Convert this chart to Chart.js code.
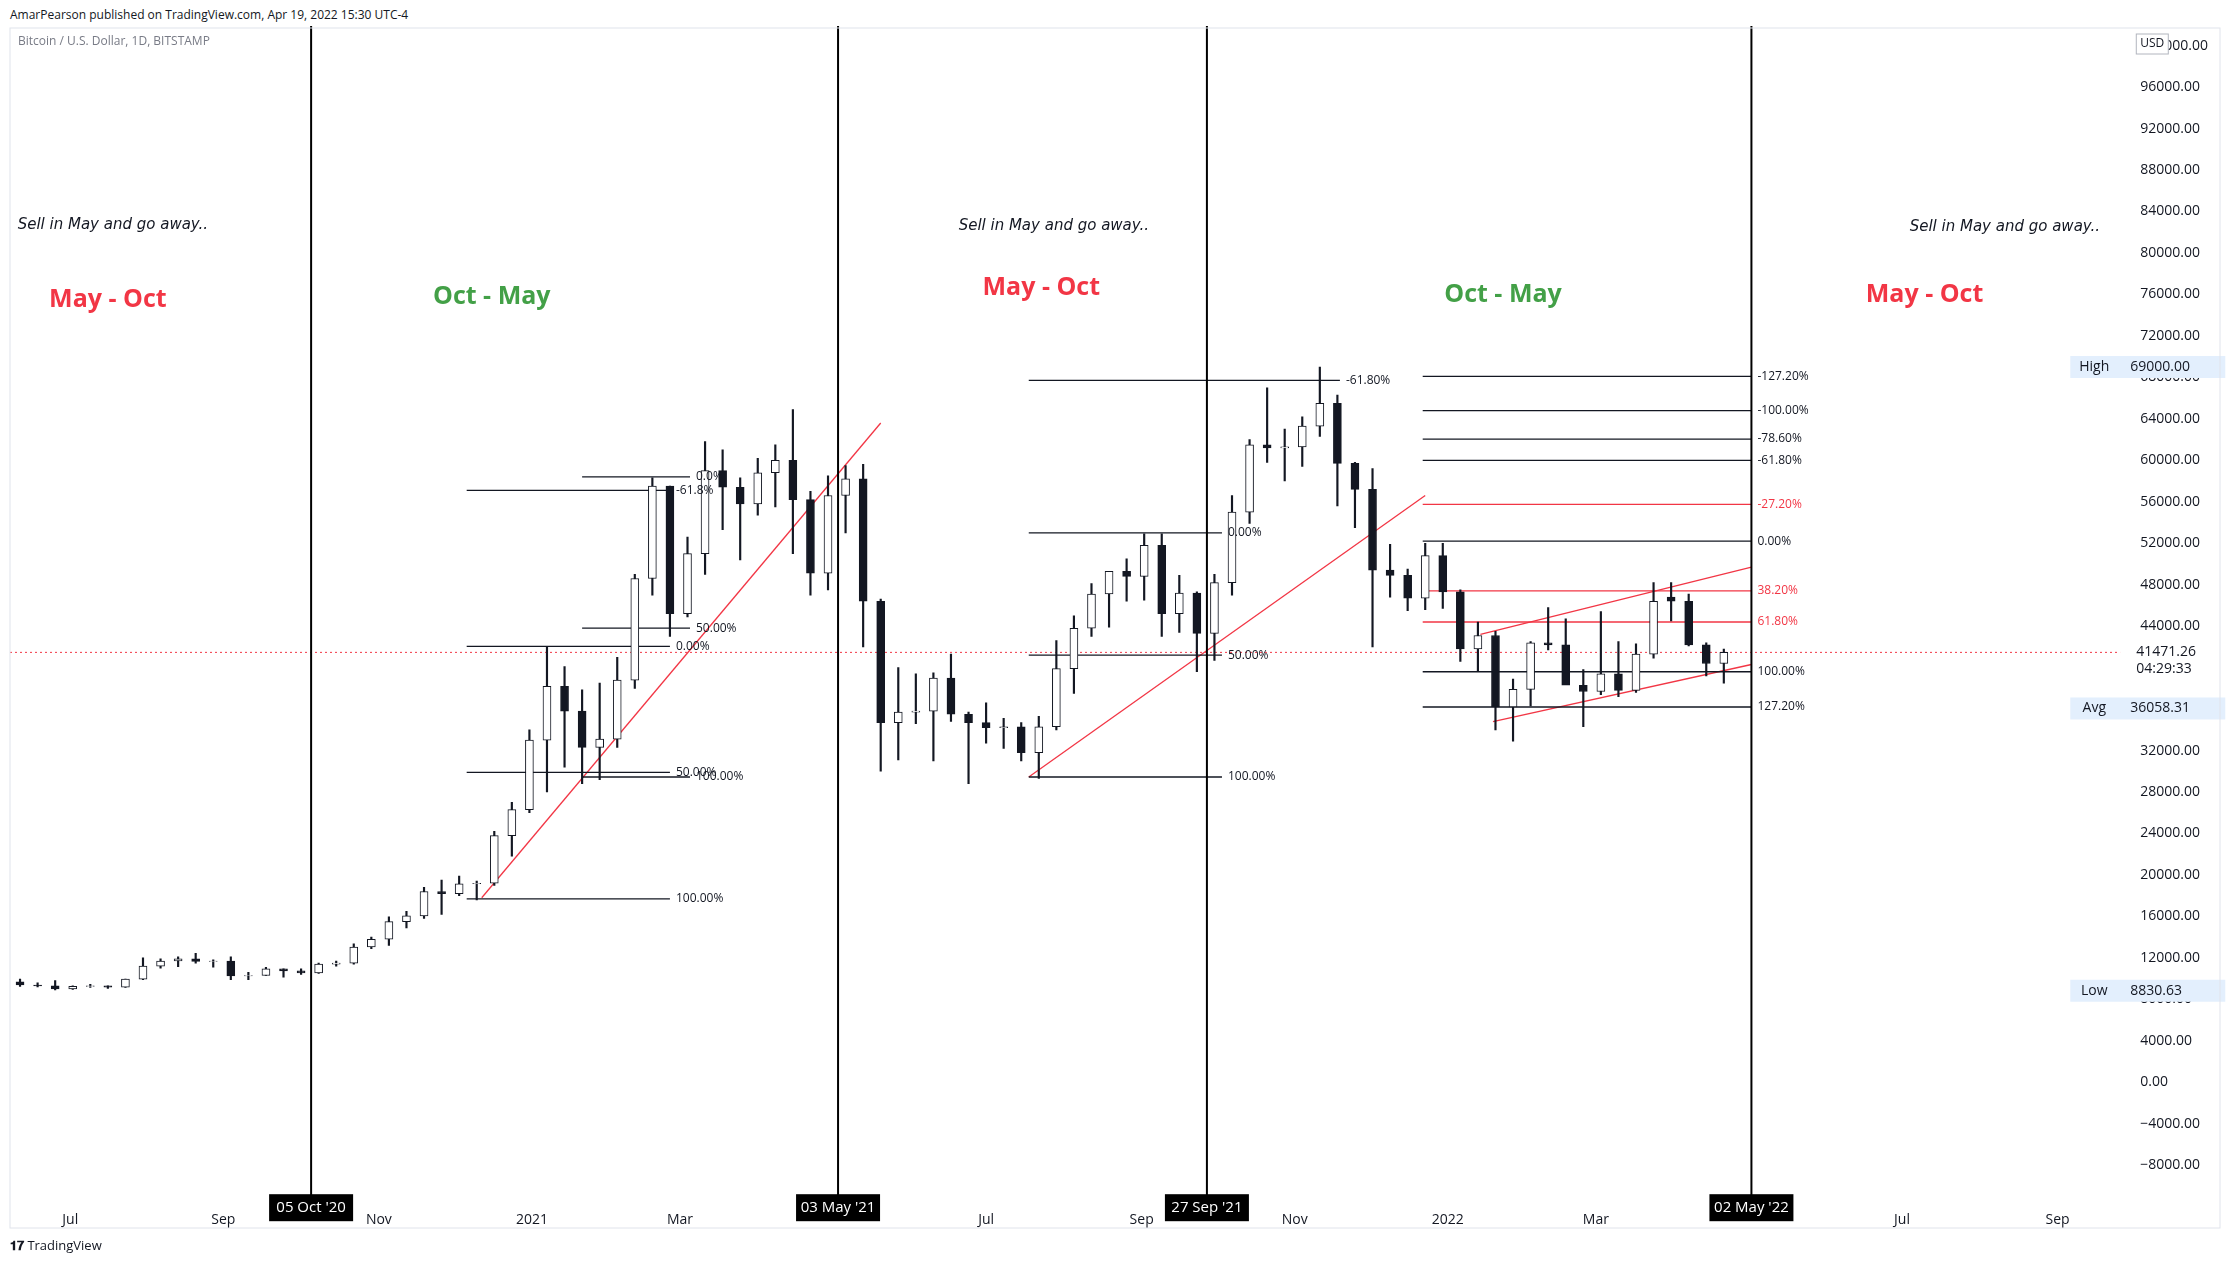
<!DOCTYPE html>
<html>
<head>
<meta charset="utf-8">
<script src="https://cdn.jsdelivr.net/npm/chart.js@4"></script>
<style>
  html, body { margin: 0; padding: 0; background: #fff; }
  #wrap { position: relative; width: 2234px; height: 1264px; }
  #top { position: absolute; left: 10px; top: 6px; font: 12px "Open Sans", sans-serif; color: #131722; }
  #bottom { position: absolute; left: 10px; top: 1236px; font: 13px "Open Sans", sans-serif; color: #131722; }
  canvas { position: absolute; left: 0; top: 0; }
</style>
</head>
<body>
<div id="wrap">
  <div id="top">AmarPearson published on TradingView.com, Apr 19, 2022 15:30 UTC-4</div>
  <canvas id="chart" width="2234" height="1264"></canvas>
  <div id="bottom"><b>𝟏𝟕</b> TradingView</div>
</div>
<script>
// day 0 = 05 Oct 2020; weekly candles starting 08 Jun 2020
const firstWeek = -119;
const opens  = [9700,9380,9300,9000,9250,9300,9180,9950,11200,11700,11900,11650,11700,10250,10300,10950,10750,10550,11400,11500,13050,13800,15500,16050,18400,18200,19150,19200,23800,26300,
  33000,38200,35800,32300,33100,38800,48600,57500,45200,51000,59000,57400,55800,58800,60000,56200,49100,56600,58200,46400,34700,35700,35800,39000,35500,34700,34200,34300,31800,34300,
  39900,43800,47100,49300,48800,51800,45200,47200,43300,48200,55000,61500,61200,61300,63300,65500,59700,57200,49400,48900,46700,50800,47300,41800,43100,36200,37900,42400,42200,38300,
  37700,39400,37800,41300,46800,46400,42200,40400];
const highs  = [9950,9600,9800,9300,9450,9300,9950,12000,11900,12100,12450,11800,12100,10600,11100,10950,10950,11500,11700,13350,14000,15950,16500,18800,19500,19900,19400,24200,27000,34000,
  41950,40100,37850,38500,41000,49000,58300,57500,52600,61800,61000,58300,60200,61500,64900,57000,58500,59500,59600,46600,40000,39400,39500,41300,35700,36600,35100,34700,35300,42600,
  45000,48100,49000,50500,52900,52900,48900,47300,49000,56600,62000,67000,63000,64200,69000,66300,59800,59200,51900,49500,52000,52000,47500,44400,43500,38900,42500,45800,44700,39800,
  45400,42500,42300,48200,48200,47100,42400,41800];
const lows   = [9250,9200,8900,8950,9150,9050,9150,9900,11000,11150,11500,11100,9900,9900,10300,10150,10400,10500,11200,11400,12900,13200,14900,15800,16200,18000,17600,19000,21800,26000,
  28000,30400,28800,29200,32300,38000,47000,43000,44900,49000,53300,50400,54700,55500,51000,47000,47500,53000,42000,30000,31100,34600,31000,34800,28800,32700,32200,31000,29300,34000,
  37500,43000,43900,46400,46500,43000,43400,39600,40700,47000,53900,59800,58000,59400,62300,55600,53500,42000,46800,45500,45600,45700,40600,39700,34000,32900,36300,41700,39600,34300,
  37400,37200,37600,40900,44500,42100,39200,38500];
const closes = [9380,9300,9000,9250,9300,9180,9950,11200,11700,11900,11650,11700,10250,10300,10950,10750,10550,11400,11500,13050,13800,15500,16050,18400,18200,19150,19200,23800,26300,33000,
  38200,35800,32300,33100,38800,48600,57500,45200,51000,59000,57400,55800,58800,60000,56200,49100,56600,58200,46400,34700,35700,35800,39000,35500,34700,34200,34300,31800,34300,39900,
  43800,47100,49300,48800,51800,45200,47200,43300,48200,55000,61500,61200,61300,63300,65500,59700,57200,49400,48900,46700,50800,47300,41800,43100,36200,37900,42400,42200,38300,37700,
  39400,37800,41300,46400,46400,42200,40400,41471];

const xTickDays = [-96,-35,27,88,147,269,331,392,453,512,634,696];
const xTickLabels = ['Jul','Sep','Nov','2021','Mar','Jul','Sep','Nov','2022','Mar','Jul','Sep'];
const cycleDays = [0,210,357,574];
const cycleLabels = ["05 Oct '20","03 May '21","27 Sep '21","02 May '22"];

// fib segments: [startDay, endDay, price, label, colour]
const fibLevels = [
  [108,151,58400,'0.0%','#000'],[62,143,57100,'-61.8%','#000'],[108,151,43800,'50.00%','#000'],
  [62,143,42050,'0.00%','#000'],[62,143,29900,'50.00%','#000'],[108,151,29450,'100.00%','#000'],
  [62,143,17700,'100.00%','#000'],
  [286,410,67700,'-61.80%','#000'],[286,363,53000,'0.00%','#000'],[286,363,41200,'50.00%','#000'],[286,363,29450,'100.00%','#000'],
  [443,574,68100,'-127.20%','#000'],[443,574,64800,'-100.00%','#000'],[443,574,62050,'-78.60%','#000'],
  [443,574,60000,'-61.80%','#000'],[443,574,55750,'-27.20%','#f23645'],[443,574,52200,'0.00%','#000'],
  [443,574,47400,'38.20%','#f23645'],[443,574,44400,'61.80%','#f23645'],[443,574,39600,'100.00%','#000'],
  [443,574,36200,'127.20%','#000']
];
// trend lines: [day1, price1, day2, price2]
const trendLines = [[68,17800,227,63600],[286,29450,444,56600],[471,34800,574,40300],[466,43200,574,49700]];
// [day, price, text, colour, kind]
const notes = [
  [-79,82700,'Sell in May and go away..','#131722','i'],[296,82600,'Sell in May and go away..','#131722','i'],[675,82500,'Sell in May and go away..','#131722','i'],
  [-81,75500,'May - Oct','#f23645','b'],[72,75800,'Oct - May','#43a047','b'],[291,76600,'May - Oct','#f23645','b'],
  [475,76000,'Oct - May','#43a047','b'],[643,76000,'May - Oct','#f23645','b']
];
const lastPrice = 41471.26, highPrice = 69000, lowPrice = 8830.63, avgPrice = 36058.31;

const days = opens.map((o, i) => firstWeek + i * 7 + 3);
const bodies = opens.map((o, i) => ({x: days[i], y: [o, closes[i]]}));
const wicks = opens.map((o, i) => ({x: days[i], y: [lows[i], highs[i]]}));
const bodyColors = opens.map((o, i) => closes[i] >= o ? '#ffffff' : '#131722');

const lineSets = [];
for (const f of fibLevels) {
  lineSets.push({type: 'line', data: [{x: f[0], y: f[2]}, {x: f[1], y: f[2]}], borderColor: f[4] === '#000' ? '#131722' : '#f23645', borderWidth: 1.3, pointRadius: 0, order: 3});
}
for (const t of trendLines) {
  lineSets.push({type: 'line', data: [{x: t[0], y: t[1]}, {x: t[2], y: t[3]}], borderColor: '#f23645', borderWidth: 1.3, pointRadius: 0, order: 3});
}
lineSets.push({type: 'line', data: [{x: -120, y: lastPrice}, {x: 721, y: lastPrice}], borderColor: '#f23645', borderWidth: 1, borderDash: [2, 3], pointRadius: 0, order: 4});

const extras = {
  id: 'extras',
  afterDatasetsDraw(chart) {
    const {ctx, chartArea: a, scales: {x, y}} = chart;
    ctx.save();
    // cycle lines
    ctx.strokeStyle = '#000'; ctx.lineWidth = 2;
    for (const d of cycleDays) {
      const px = x.getPixelForValue(d);
      ctx.beginPath(); ctx.moveTo(px, a.top - 2); ctx.lineTo(px, a.bottom + 26); ctx.stroke();
    }
    // fib labels
    ctx.font = '12px "Open Sans", sans-serif'; ctx.textBaseline = 'middle'; ctx.textAlign = 'left';
    for (const f of fibLevels) {
      ctx.fillStyle = f[4] === '#000' ? '#131722' : '#f23645';
      ctx.fillText(f[3], x.getPixelForValue(f[1]) + 6, y.getPixelForValue(f[2]));
    }
    // notes
    ctx.textAlign = 'center';
    for (const n of notes) {
      ctx.fillStyle = n[3];
      ctx.font = n[4] === 'i' ? 'italic 15px "DejaVu Sans", sans-serif' : 'bold 25px "Open Sans", sans-serif';
      ctx.fillText(n[2], x.getPixelForValue(n[0]), y.getPixelForValue(n[1]));
    }
    // date boxes
    ctx.font = '15px "Open Sans", sans-serif';
    cycleDays.forEach((d, i) => {
      const px = x.getPixelForValue(d);
      ctx.fillStyle = '#000'; ctx.fillRect(px - 42, a.bottom + 1, 84, 27);
      ctx.fillStyle = '#fff'; ctx.fillText(cycleLabels[i], px, a.bottom + 15);
    });
    // right labels
    const tags = [[highPrice, 'High', '69000.00'], [avgPrice, 'Avg', '36058.31'], [lowPrice, 'Low', '8830.63']];
    ctx.font = '14px "Open Sans", sans-serif';
    for (const t of tags) {
      const py = y.getPixelForValue(t[0]);
      ctx.fillStyle = '#e3effd'; ctx.fillRect(a.right - 50, py - 11, 155, 22);
      ctx.fillStyle = '#131722'; ctx.textAlign = 'center';
      ctx.fillText(t[1], a.right - 26, py);
      ctx.textAlign = 'left'; ctx.fillText(t[2], a.right + 10, py);
    }
    const py = y.getPixelForValue(lastPrice);
    ctx.fillStyle = '#fff'; ctx.fillRect(a.right + 4, py - 12, 90, 40);
    ctx.fillStyle = '#131722'; ctx.textAlign = 'left';
    ctx.fillText('41471.26', a.right + 16, py);
    ctx.fillText('04:29:33', a.right + 16, py + 17);
    ctx.font = '12px "Open Sans", sans-serif'; ctx.fillStyle = '#787b86';
    ctx.fillText('Bitcoin / U.S. Dollar, 1D, BITSTAMP', a.left + 8, a.top + 14);
    ctx.strokeStyle = '#b2b5be'; ctx.lineWidth = 1;
    ctx.fillStyle = '#fff'; ctx.fillRect(a.right + 16, a.top + 6, 32, 20);
    ctx.strokeRect(a.right + 16, a.top + 6, 32, 20);
    ctx.fillStyle = '#131722'; ctx.fillText('USD', a.right + 20, a.top + 16);
    // frame
    ctx.strokeStyle = '#e0e3eb';
    ctx.strokeRect(10, 28, 2210, 1200);
    ctx.restore();
  }
};

new Chart(document.getElementById('chart'), {
  data: {
    datasets: [
      {type: 'bar', data: wicks, backgroundColor: '#131722', barThickness: 1.5, grouped: false, order: 2},
      {type: 'bar', data: bodies, backgroundColor: bodyColors, borderColor: '#131722', borderWidth: 1, borderSkipped: false, barThickness: 8, grouped: false, order: 1},
      ...lineSets
    ]
  },
  options: {
    responsive: false,
    animation: false,
    layout: {padding: {top: 28, left: 10, right: 14, bottom: 26}},
    plugins: {legend: {display: false}, tooltip: {enabled: false}},
    scales: {
      x: {
        type: 'linear', min: -120, max: 721, offset: false,
        grid: {display: false}, border: {display: false},
        afterBuildTicks: s => { s.ticks = xTickDays.map(v => ({value: v})); },
        ticks: {color: '#131722', font: {size: 14, family: 'Open Sans'}, padding: 10, maxRotation: 0, autoSkip: false,
          callback: v => xTickLabels[xTickDays.indexOf(v)]}
      },
      y: {
        position: 'right', min: -10700, max: 101700,
        grid: {display: false}, border: {display: false},
        afterBuildTicks: s => { const t = []; for (let v = -8000; v <= 100000; v += 4000) t.push({value: v}); s.ticks = t; },
        ticks: {color: '#131722', font: {size: 14, family: 'Open Sans'}, padding: 12,
          callback: v => (v < 0 ? '\u2212' + (-v).toFixed(2) : v.toFixed(2))}
      }
    }
  },
  plugins: [extras]
});
</script>
</body>
</html>
